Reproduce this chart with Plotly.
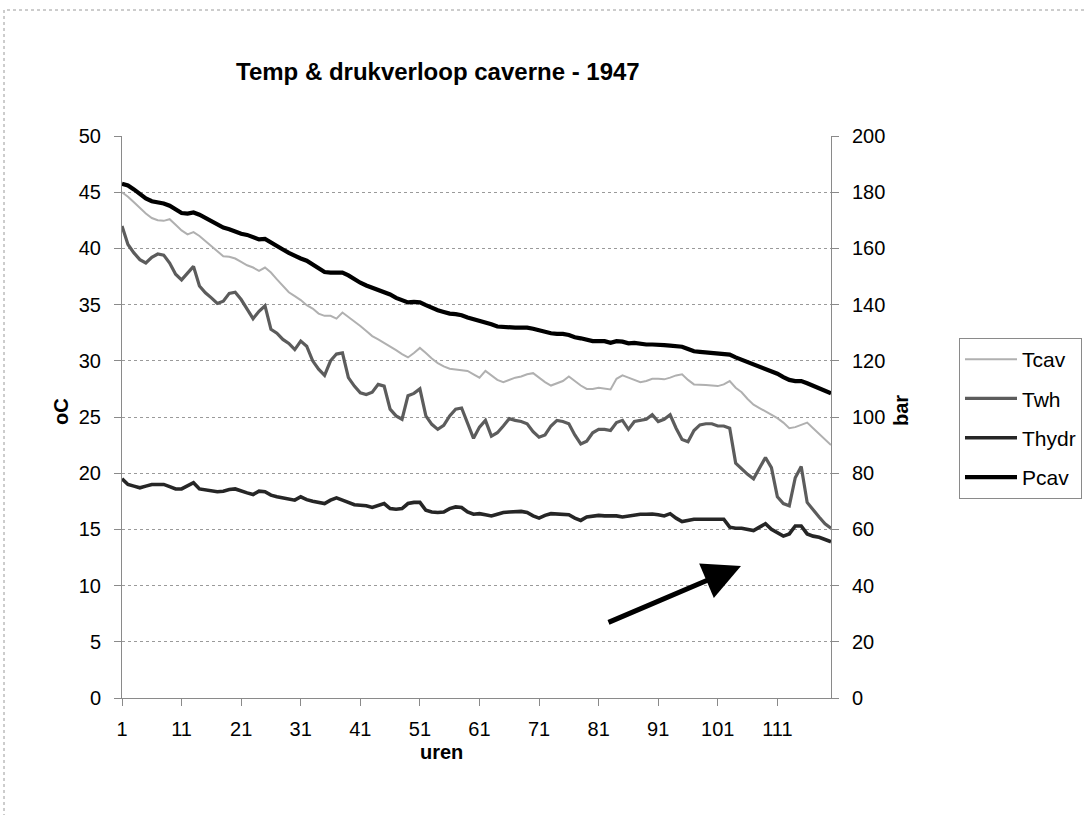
import plotly.graph_objects as go

hours = list(range(1, 121))
x_tick_vals = list(range(1, 120, 10))

tcav = [45.0, 44.6, 44.1, 43.6, 43.1, 42.7, 42.5, 42.45, 42.6, 42.1,
        41.6, 41.25, 41.45, 41.1, 40.65, 40.2, 39.7, 39.3, 39.25, 39.1,
        38.8, 38.5, 38.3, 38.0, 38.3, 37.85, 37.25, 36.65, 36.1, 35.75,
        35.4, 34.95, 34.65, 34.2, 34.0, 34.0, 33.75, 34.3, 33.9, 33.55,
        33.1, 32.65, 32.2, 31.9, 31.6, 31.3, 30.95, 30.6, 30.3, 30.7,
        31.15, 30.7, 30.2, 29.8, 29.5, 29.3, 29.25, 29.2, 29.1, 28.8,
        28.5, 29.1, 28.7, 28.3, 28.1, 28.3, 28.5, 28.6, 28.8, 28.9,
        28.5, 28.1, 27.8, 28.0, 28.2, 28.6, 28.2, 27.8, 27.5, 27.5,
        27.6, 27.5, 27.45, 28.4, 28.7, 28.5, 28.3, 28.1, 28.2, 28.4,
        28.4, 28.35, 28.5, 28.7, 28.8, 28.3, 27.9, 27.9, 27.85, 27.8,
        27.75, 27.9, 28.2, 27.6, 27.2, 26.6, 26.1, 25.8, 25.5, 25.2,
        24.9, 24.5, 24.0, 24.1, 24.3, 24.5, 24.0, 23.5, 23.0, 22.5]

twh = [42.0, 40.35, 39.6, 39.0, 38.7, 39.2, 39.5, 39.4, 38.7, 37.7,
       37.2, 37.85, 38.4, 36.65, 36.05, 35.6, 35.1, 35.3, 36.0, 36.1,
       35.45, 34.6, 33.75, 34.4, 34.9, 32.8, 32.45, 31.9, 31.55, 31.0,
       31.75, 31.3, 30.0, 29.25, 28.7, 30.0, 30.6, 30.7, 28.5, 27.75,
       27.15, 27.0, 27.2, 27.9, 27.75, 25.7, 25.1, 24.8, 26.9, 27.1,
       27.5, 25.1, 24.35, 23.9, 24.25, 25.1, 25.7, 25.8, 24.5, 23.1,
       24.1, 24.7, 23.3, 23.6, 24.2, 24.85, 24.7, 24.6, 24.4, 23.7,
       23.2, 23.4, 24.2, 24.7, 24.6, 24.4, 23.4, 22.6, 22.85, 23.6,
       23.9, 23.9, 23.8, 24.5, 24.7, 23.9, 24.6, 24.7, 24.8, 25.2,
       24.6, 24.8, 25.2, 24.0, 23.0, 22.8, 23.8, 24.3, 24.4, 24.4,
       24.2, 24.2, 24.0, 20.9, 20.4, 19.9, 19.5, 20.4, 21.4, 20.5,
       17.9, 17.3, 17.1, 19.6, 20.6, 17.4, 16.7, 16.1, 15.5, 15.1]

thydr = [19.5, 19.0, 18.85, 18.7, 18.85, 19.0, 19.0, 19.0, 18.8, 18.6,
         18.6, 18.9, 19.15, 18.6, 18.5, 18.4, 18.35, 18.4, 18.55, 18.6,
         18.4, 18.25, 18.1, 18.4, 18.35, 18.05, 17.9, 17.8, 17.75, 17.6,
         17.9, 17.65, 17.5, 17.4, 17.3, 17.6, 17.8, 17.6, 17.4, 17.2,
         17.15, 17.1, 16.95, 17.15, 17.3, 16.85, 16.8, 16.85, 17.3, 17.4,
         17.4, 16.7, 16.55, 16.5, 16.55, 16.85, 17.0, 16.95, 16.55, 16.35,
         16.4, 16.3, 16.2, 16.35, 16.5, 16.55, 16.6, 16.6, 16.5, 16.2,
         16.0, 16.25, 16.4, 16.35, 16.3, 16.3, 16.0, 15.8, 16.1, 16.2,
         16.25, 16.2, 16.2, 16.2, 16.1, 16.2, 16.3, 16.35, 16.35, 16.37,
         16.3, 16.2, 16.4, 16.0, 15.7, 15.8, 15.9, 15.9, 15.9, 15.9,
         15.9, 15.9, 15.2, 15.1, 15.1, 15.0, 14.9, 15.2, 15.5, 15.0,
         14.7, 14.4, 14.6, 15.3, 15.3, 14.6, 14.4, 14.3, 14.1, 13.9]

pcav = [183.0, 182.4, 181.0, 179.2, 177.8, 176.8, 176.4, 176.0, 175.2, 174.0,
        172.6, 172.4, 172.8, 172.0, 170.8, 169.6, 168.2, 167.4, 166.8, 166.0,
        165.2, 164.8, 163.8, 163.2, 163.4, 162.0, 160.6, 159.6, 158.4, 157.2,
        156.4, 155.6, 154.4, 153.2, 151.6, 151.4, 151.4, 151.4, 150.4, 149.0,
        147.8, 146.8, 146.0, 145.2, 144.4, 143.6, 142.4, 141.6, 140.8, 141.0,
        140.8, 139.8, 138.8, 138.0, 137.4, 136.8, 136.6, 136.2, 135.4, 134.8,
        134.4, 133.8, 133.0, 132.2, 132.0, 131.8, 131.8, 131.8, 131.8, 131.4,
        130.8, 130.2, 129.8, 129.6, 129.6, 129.2, 128.4, 128.0, 127.4, 127.0,
        127.0, 127.0, 126.4, 127.0, 126.8, 126.2, 126.4, 126.0, 125.8, 125.8,
        125.8, 125.6, 125.4, 125.2, 125.0, 124.2, 123.4, 123.2, 123.0, 122.8,
        122.6, 122.4, 122.2, 121.2, 120.4, 119.6, 118.8, 118.0, 117.2, 116.4,
        115.4, 114.2, 113.2, 112.8, 112.8, 112.0, 111.0, 110.2, 109.2, 108.4]

W, H = 1086, 815
PL, PR, PT, PB = 122, 831, 136, 698
PW, PH = PR - PL, PB - PT


def px(xp):
    return (xp - PL) / PW


def py(yp):
    return (PB - yp) / PH


FONT = "Arial, Liberation Sans, sans-serif"

fig = go.Figure()
fig.add_trace(go.Scatter(x=hours, y=tcav, name="Tcav", mode="lines",
                         line=dict(color="#b0b0b0", width=2), legendgroup="a"))
fig.add_trace(go.Scatter(x=hours, y=twh, name="Twh", mode="lines",
                         line=dict(color="#5c5c5c", width=3.2), legendgroup="b"))
fig.add_trace(go.Scatter(x=hours, y=thydr, name="Thydr", mode="lines",
                         line=dict(color="#262626", width=3.6), legendgroup="c"))
fig.add_trace(go.Scatter(x=hours, y=pcav, name="Pcav", mode="lines", yaxis="y2",
                         line=dict(color="#000000", width=4.2), legendgroup="d"))

axis_common = dict(showline=True, linecolor="#8a8a8a", linewidth=1, ticks="outside",
                   ticklen=7, tickcolor="#8a8a8a", zeroline=False,
                   tickfont=dict(family=FONT, size=20, color="#000"))

fig.update_layout(
    width=W, height=H, autosize=False,
    margin=dict(l=PL, r=W - PR, t=PT, b=H - PB, pad=0, autoexpand=False),
    plot_bgcolor="white", paper_bgcolor="white",
    font=dict(family=FONT, color="#000"),
    showlegend=True,
    legend=dict(x=px(959), y=py(338), xanchor="left", yanchor="top",
                bordercolor="#8a8a8a", borderwidth=1, bgcolor="white",
                font=dict(family=FONT, size=21, color="#000"),
                tracegroupgap=9, itemwidth=52),
    xaxis=dict(range=[1, 120], tickvals=x_tick_vals, ticktext=[str(v) for v in x_tick_vals],
               showgrid=False, ticklabelstandoff=6, **axis_common),
    yaxis=dict(range=[0, 50], dtick=5, showgrid=True, gridcolor="#9a9a9a", griddash="dot",
               gridwidth=1, ticklabelstandoff=9, **axis_common),
    yaxis2=dict(range=[0, 200], dtick=20, overlaying="y", side="right", showgrid=False,
                ticklabelstandoff=9, **axis_common),
    annotations=[
        dict(text="<b>Temp & drukverloop caverne - 1947</b>", xref="paper", yref="paper",
             x=px(438), y=py(72), xanchor="center", yanchor="middle", showarrow=False,
             font=dict(family=FONT, size=24)),
        dict(text="<b>oC</b>", xref="paper", yref="paper", x=px(61), y=py(411),
             xanchor="center", yanchor="middle",
             textangle=-90, showarrow=False, font=dict(family=FONT, size=20)),
        dict(text="<b>bar</b>", xref="paper", yref="paper", x=px(901), y=py(411),
             xanchor="center", yanchor="middle",
             textangle=-90, showarrow=False, font=dict(family=FONT, size=20)),
        dict(text="<b>uren</b>", xref="paper", yref="paper", x=px(441), y=py(752),
             xanchor="center", yanchor="middle",
             showarrow=False, font=dict(family=FONT, size=20)),
        dict(text="", xref="paper", yref="paper", x=px(741), y=py(566),
             ax=607 - 741, ay=623 - 566, axref="pixel", ayref="pixel",
             showarrow=True, arrowhead=2, arrowsize=1.5, arrowwidth=5, arrowcolor="#000"),
    ],
    shapes=[
        dict(type="rect", xref="paper", yref="paper", x0=px(4), x1=px(1100), y0=py(830), y1=py(10),
             line=dict(color="#9a9a9a", width=1, dash="dot"), layer="below"),
    ],
)

fig.write_html("out.html", config={"displayModeBar": False},
               post_script="document.body.style.margin='0';")
